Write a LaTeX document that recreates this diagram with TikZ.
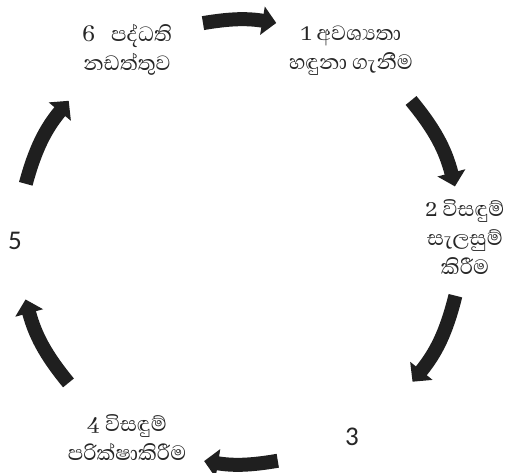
\documentclass[tikz,border=0pt]{standalone}
\usepackage{fontspec}
\usetikzlibrary{arrows.meta,calc}
\newfontfamily\sinfont[Script=Sinhala]{Abhaya Libre}
\newfontfamily\numfont{Carlito}
\tikzset{
  lbl/.style={align=center,font=\sinfont\fontsize{26.5}{29}\selectfont,inner sep=0pt,text=black!85},
  numlbl/.style={font=\numfont\fontsize{27}{30}\selectfont,inner sep=0pt,text=black!85},
  bigarrow/.style={line width=14pt,color=black!88,-{Triangle[width=28pt,length=14pt]}}
}
\begin{document}
\begin{tikzpicture}[x=1pt,y=1pt]
\useasboundingbox (0,0) rectangle (508,472);
\coordinate (c) at (240,230);
% text nodes
\node[lbl] (n6) at (127,422) {6\hspace{0.6em}පද්ධති\\නඩත්තුව};
\node[lbl] (n1) at (351,421) {1 අවශ්‍යතා\\හඳුනා ගැනීම};
\node[lbl] (n2) at (465,235) {2 විසඳුම්\\සැලසුම්\\කිරීම};
\node[numlbl] (n3) at (352,35) {3};
\node[lbl] (n4) at (127,34) {4 විසඳුම්\\පරික්ෂාකිරීම};
\node[numlbl] (n5) at (15,231) {5};
% arrow end points
\coordinate (t61) at ($(c)+(99.6:222)$);
\coordinate (h61) at ($(c)+(80.6:222)$);
\coordinate (t12) at ($(c)+(39.6:222)$);
\coordinate (h12) at ($(c)+(14.5:222)$);
\coordinate (t23) at ($(c)+(-14:222)$);
\coordinate (h23) at ($(c)+(-39:222)$);
\coordinate (t34) at ($(c)+(-80.2:222)$);
\coordinate (h34) at ($(c)+(-99.3:222)$);
\coordinate (t45) at ($(c)+(-140.6:222)$);
\coordinate (h45) at ($(c)+(-165:222)$);
\coordinate (t56) at ($(c)+(164.8:222)$);
\coordinate (h56) at ($(c)+(140.5:222)$);
\draw[bigarrow] (t61) to[bend left=9.5] (h61);
\draw[bigarrow] (t12) to[bend left=12.5] (h12);
\draw[bigarrow] (t23) to[bend left=12.5] (h23);
\draw[bigarrow] (t34) to[bend left=9.5] (h34);
\draw[bigarrow] (t45) to[bend left=12.2] (h45);
\draw[bigarrow] (t56) to[bend left=12.2] (h56);
\end{tikzpicture}
\end{document}
